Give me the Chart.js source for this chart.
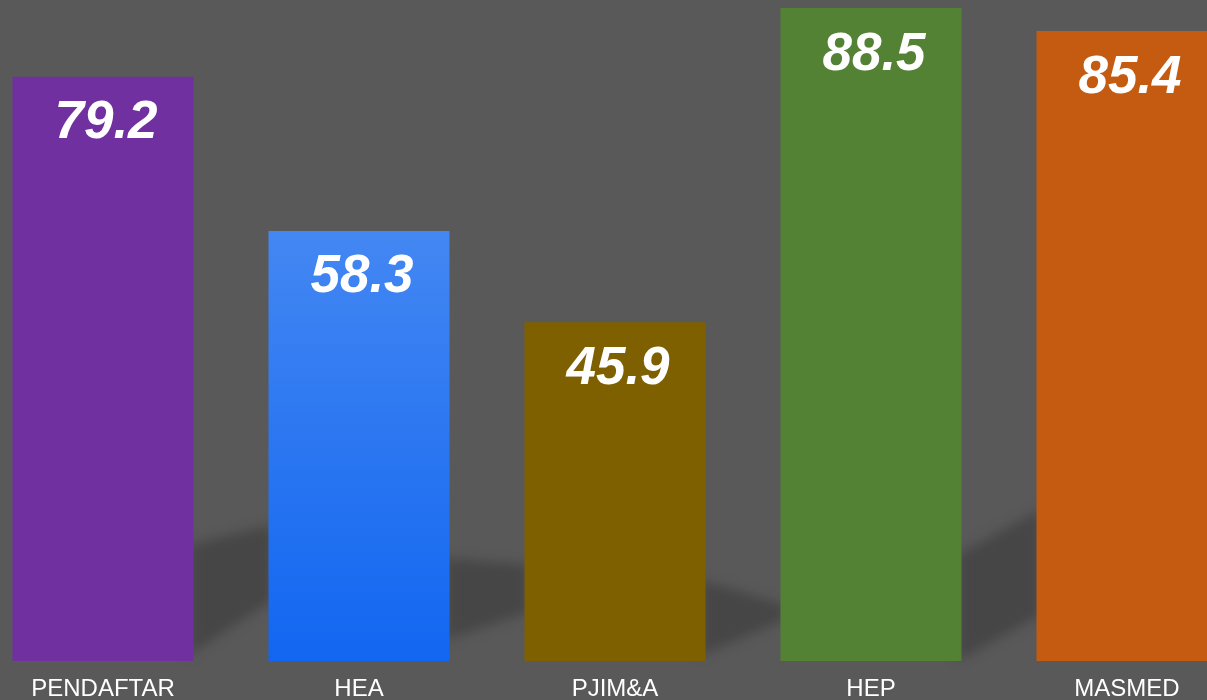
<!DOCTYPE html>
<html>
<head>
<meta charset="utf-8">
<script src="https://cdn.jsdelivr.net/npm/chart.js@4/dist/chart.umd.min.js"></script>
<style>
  html, body { margin: 0; padding: 0; background: #595959; overflow: hidden; }
  #wrap { position: relative; width: 1207px; height: 700px; overflow: hidden; }
  #chart { position: absolute; left: -25px; top: -3px; }
</style>
</head>
<body>
<div id="wrap"><canvas id="chart" width="1280" height="703"></canvas></div>
<script>
const categories = ['PENDAFTAR', 'HEA', 'PJIM&A', 'HEP', 'MASMED'];
const scores = [79.2, 58.3, 45.9, 88.5, 85.4];
const barColors = ['#7030A0', 'blue-gradient', '#7F6000', '#548235', '#C55A11'];

// soft wall shadow in the gaps between bars (px above the baseline, left/right edge)
const shadowTop = [[116, 136], [103, 96], [81, 56], [106, 151]];
const shadowBottom = [[6, 61], [21, 49], [6, 41], [0, 46]];

function barFill(context) {
  const c = barColors[context.dataIndex];
  if (c !== 'blue-gradient') return c;
  const chart = context.chart;
  if (!chart.chartArea) return '#1a6af1';
  const yScale = chart.scales.y;
  const top = yScale.getPixelForValue(context.raw);
  const base = yScale.getPixelForValue(0);
  const g = chart.ctx.createLinearGradient(0, top, 0, base);
  g.addColorStop(0, '#4387F2');
  g.addColorStop(1, '#1266F1');
  return g;
}

const wallShadow = {
  id: 'wallShadow',
  beforeDatasetsDraw(chart) {
    const ctx = chart.ctx;
    const bars = chart.getDatasetMeta(0).data;
    const base = chart.scales.y.getPixelForValue(0);
    ctx.save();
    ctx.filter = 'blur(6px)';
    ctx.fillStyle = '#464646';
    for (let i = 0; i < bars.length - 1; i++) {
      const x0 = bars[i].x + bars[i].width / 2 - 4;
      const x1 = bars[i + 1].x - bars[i + 1].width / 2 + 4;
      ctx.beginPath();
      ctx.moveTo(x0, base - shadowTop[i][0]);
      ctx.lineTo(x1, base - shadowTop[i][1]);
      ctx.lineTo(x1, base - shadowBottom[i][1]);
      ctx.lineTo(x0, base - shadowBottom[i][0]);
      ctx.closePath();
      ctx.fill();
    }
    ctx.restore();
  },
};

const valueLabels = {
  id: 'valueLabels',
  afterDatasetsDraw(chart) {
    const ctx = chart.ctx;
    const bars = chart.getDatasetMeta(0).data;
    ctx.save();
    ctx.fillStyle = '#ffffff';
    ctx.font = 'italic bold 53px "Liberation Sans", Arial, sans-serif';
    ctx.textAlign = 'center';
    ctx.textBaseline = 'middle';
    bars.forEach((bar, i) => {
      ctx.fillText(scores[i].toFixed(1), bar.x + 3, bar.y + 47);
    });
    ctx.restore();
  },
};

new Chart(document.getElementById('chart').getContext('2d'), {
  type: 'bar',
  data: {
    labels: categories,
    datasets: [{
      data: scores,
      backgroundColor: barFill,
      borderWidth: 0,
      categoryPercentage: 1,
      barPercentage: 0.707,
    }],
  },
  options: {
    responsive: false,
    animation: false,
    layout: { padding: 0 },
    plugins: {
      legend: { display: false },
      tooltip: { enabled: false },
    },
    scales: {
      x: {
        grid: { display: false, drawTicks: false },
        border: { display: false },
        ticks: {
          color: '#ffffff',
          padding: 14,
          maxRotation: 0,
          autoSkip: false,
          font: { family: '"Liberation Sans", Arial, sans-serif', size: 24 },
        },
        afterFit(scale) { scale.height = 39; },
      },
      y: {
        display: false,
        min: 0,
        max: 90,
      },
    },
  },
  plugins: [wallShadow, valueLabels],
});
</script>
</body>
</html>
